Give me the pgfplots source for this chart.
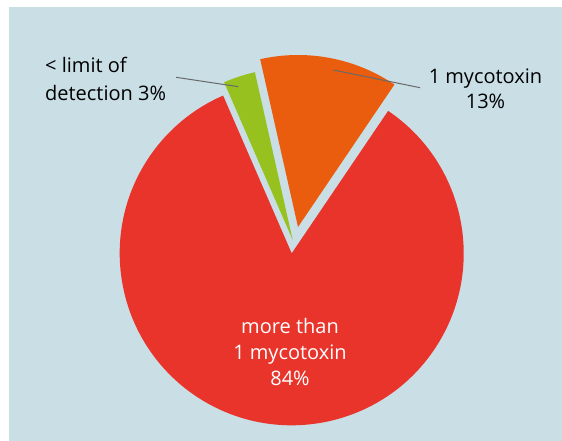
\documentclass[border=0pt]{standalone}
\usepackage{pgfplots}
\pgfplotsset{compat=1.18}
\usepackage{pgfplotstable}
\usepackage{fontspec}
\setmainfont{Open Sans}
\definecolor{panel}{RGB}{202,222,230}
\definecolor{cred}{RGB}{232,52,43}
\definecolor{corange}{RGB}{234,93,14}
\definecolor{cgreen}{RGB}{150,193,31}
\definecolor{leader}{RGB}{105,105,105}
\tikzset{lbl/.style={font=\fontsize{20bp}{24bp}\selectfont, inner sep=0pt}}
\pgfplotstableread{
share dx dy
3 1.0 13.3
13 6.3 26.3
84 0 0
}\piedata
\begin{document}
\begin{tikzpicture}
\pgfplotstablegetelem{0}{share}\of\piedata \pgfmathsetmacro\sA{\pgfplotsretval}
\pgfplotstablegetelem{1}{share}\of\piedata \pgfmathsetmacro\sB{\pgfplotsretval}
\pgfplotstablegetelem{2}{share}\of\piedata \pgfmathsetmacro\sC{\pgfplotsretval}
\pgfplotstablegetelem{0}{dx}\of\piedata \pgfmathsetmacro\xA{291.7+\pgfplotsretval}
\pgfplotstablegetelem{1}{dx}\of\piedata \pgfmathsetmacro\xB{291.7+\pgfplotsretval}
\pgfplotstablegetelem{2}{dx}\of\piedata \pgfmathsetmacro\xC{291.7+\pgfplotsretval}
\pgfplotstablegetelem{0}{dy}\of\piedata \pgfmathsetmacro\yA{187.7+\pgfplotsretval}
\pgfplotstablegetelem{1}{dy}\of\piedata \pgfmathsetmacro\yB{187.7+\pgfplotsretval}
\pgfplotstablegetelem{2}{dy}\of\piedata \pgfmathsetmacro\yC{187.7+\pgfplotsretval}
\pgfmathsetmacro\aStart{113.5}
\pgfmathsetmacro\aOne{\aStart-3.6*\sA}
\pgfmathsetmacro\aTwo{\aOne-3.6*\sB}
\pgfmathsetmacro\aThree{\aTwo-3.6*\sC}
\begin{axis}[x=1bp,y=1bp,xmin=0,xmax=562,ymin=0,ymax=441,hide axis,clip=false]
\coordinate (ll) at (axis cs:0,0);
\coordinate (ur) at (axis cs:562,441);
\fill[white] (axis cs:0,0) rectangle (axis cs:562,441);
\fill[panel] (axis cs:9,-40) rectangle (axis cs:620,434);
\fill[cgreen] (axis cs:\xA,\yA) -- ++(\aStart:172bp) arc[start angle=\aStart, end angle=\aOne, radius=172bp] -- cycle;
\fill[corange] (axis cs:\xB,\yB) -- ++(\aOne:172bp) arc[start angle=\aOne, end angle=\aTwo, radius=172bp] -- cycle;
\fill[cred] (axis cs:\xC,\yC) -- ++(\aTwo:172bp) arc[start angle=\aTwo, end angle=\aThree, radius=172bp] -- cycle;
\draw[leader, line width=1bp] (axis cs:176,363.7) -- (axis cs:238.3,354.3);
\draw[leader, line width=1bp] (axis cs:333.3,371) -- (axis cs:420,353.3);
\node[lbl, anchor=base west] at (axis cs:45,368.7) {< limit of};
\node[lbl, anchor=base west] at (axis cs:45,340.3) {detection 3\%};
\node[lbl, anchor=base] at (axis cs:485.5,357.7) {1 mycotoxin};
\node[lbl, anchor=base] at (axis cs:485.5,332) {13\%};
\node[lbl, anchor=base, white] at (axis cs:290,107.7) {more than};
\node[lbl, anchor=base, white] at (axis cs:290,81) {1 mycotoxin};
\node[lbl, anchor=base, white] at (axis cs:290,55) {84\%};
\end{axis}
\pgfresetboundingbox
\path[use as bounding box] (ll) rectangle (ur);
\end{tikzpicture}
\end{document}
